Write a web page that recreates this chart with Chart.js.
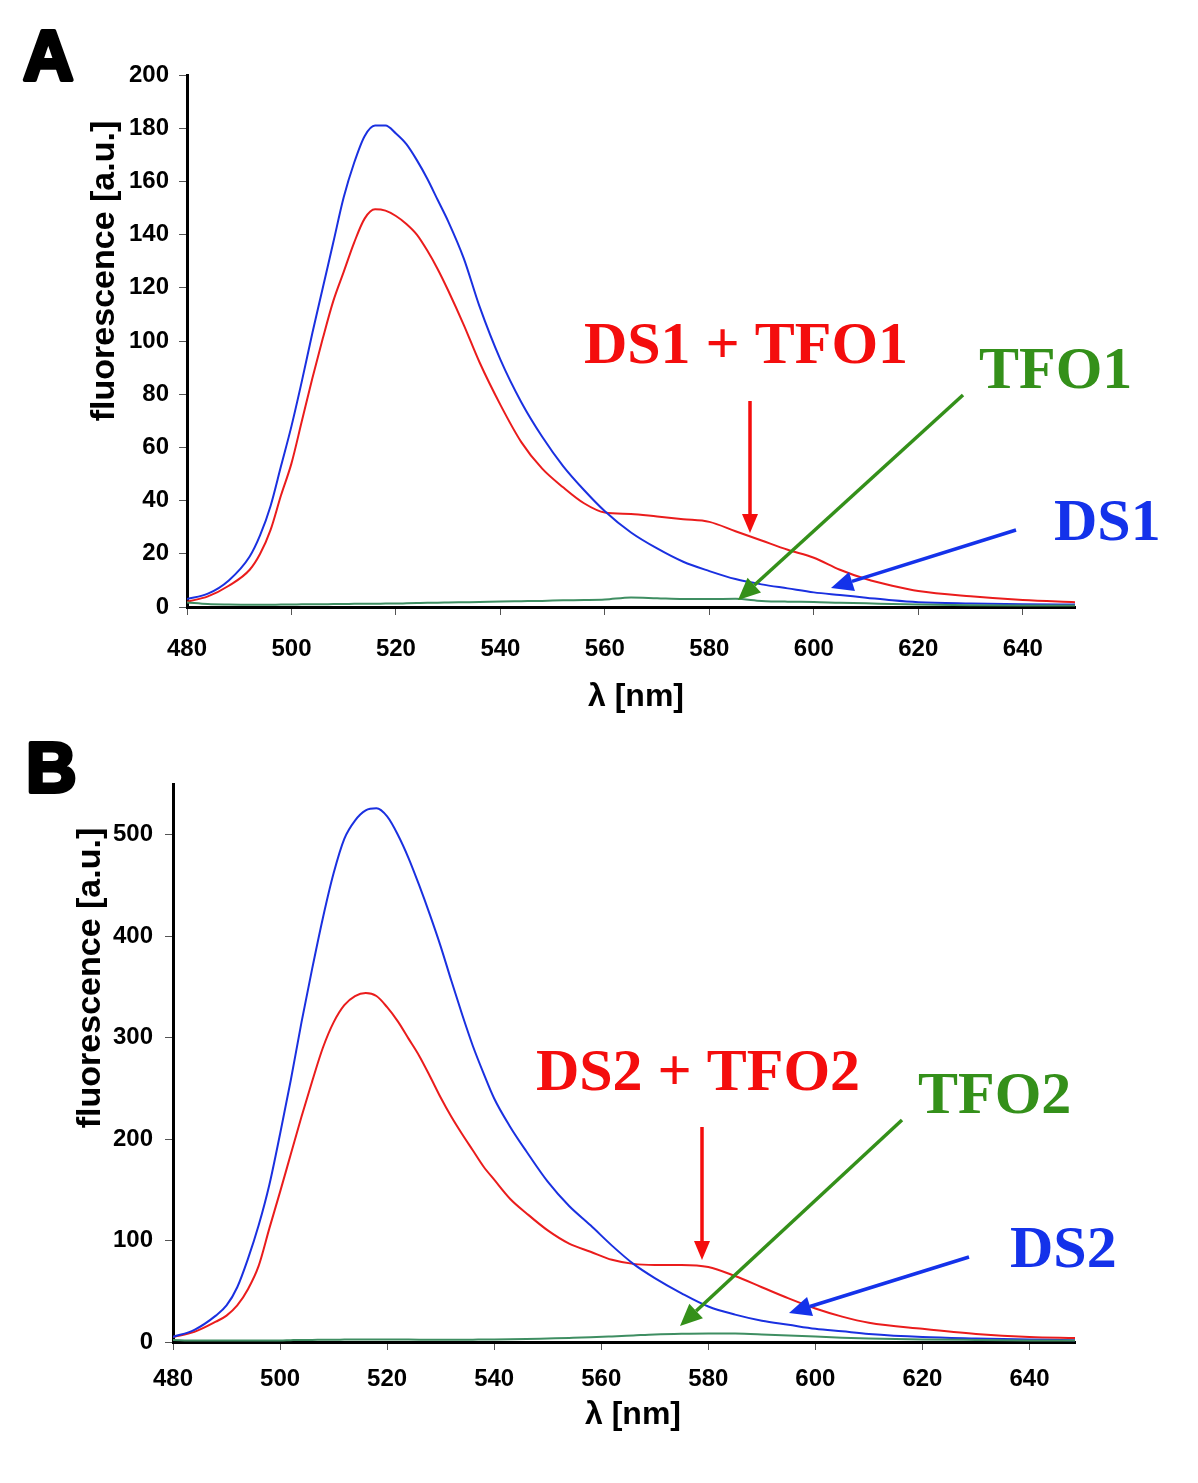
<!DOCTYPE html>
<html>
<head>
<meta charset="utf-8">
<script src="https://cdn.jsdelivr.net/npm/chart.js@4.4.1/dist/chart.umd.min.js"></script>
<style>
    html, body { margin: 0; padding: 0; background: #fff; }
    body { width: 1198px; height: 1483px; position: relative; overflow: hidden; }
    canvas { position: absolute; left: 0; }
    #chartA { top: 0; }
    #chartB { top: 740px; }
</style>
</head>
<body>
<canvas id="chartA" width="1198" height="740"></canvas>
<canvas id="chartB" width="1198" height="743"></canvas>
<script>
// --- Panel A data (wavelength in nm, fluorescence in a.u.) ---
const wlA = [480, 484, 488, 492, 494, 496, 498, 500, 502, 504, 506, 508, 510, 512, 514, 516, 518, 520,
    522, 524, 526, 528, 530, 533, 536, 540, 544, 548, 552, 556, 560, 565, 570, 575, 580, 585, 590,
    595, 600, 605, 610, 615, 620, 630, 640, 650];
const ds1 = [3, 5, 10, 19, 27, 38, 53, 68, 85, 103, 120, 137, 154, 167, 177, 181, 181, 178,
    174, 168, 161, 153, 145, 131, 113, 93, 77, 64, 53, 44, 36, 28, 22, 17, 13.5, 10.5, 8.5,
    7, 5.5, 4.5, 3.5, 2.5, 1.8, 1.3, 1, 0.9];
const ds1tfo1 = [2, 4, 8, 14, 20, 29, 42, 54, 70, 86, 101, 115, 126, 137, 146, 149.5, 149, 147,
    144, 140, 134, 127, 119, 106, 92, 76, 62, 52, 45, 39, 35.5, 35, 34, 33, 32, 28.5, 25,
    21.5, 18.5, 14, 10.5, 8, 6, 4, 2.6, 1.8];
const tfo1 = [1.7, 1.1, 0.9, 0.8, 0.8, 0.8, 0.9, 0.9, 1, 1, 1, 1.1, 1.1, 1.2, 1.2, 1.2, 1.3, 1.3,
    1.4, 1.5, 1.6, 1.6, 1.7, 1.8, 1.9, 2.1, 2.2, 2.3, 2.5, 2.6, 2.8, 3.6, 3.3, 3.0, 3.0, 3.1, 2.3,
    2.0, 1.9, 1.6, 1.4, 1.1, 0.9, 0.7, 0.6, 0.6];

// --- Panel B data ---
const wlB = [480, 484, 488, 490, 492, 494, 496, 498, 500, 502, 504, 506, 508, 510, 512, 514, 516, 518,
    520, 522, 524, 526, 528, 530, 532, 534, 536, 538, 540, 543, 546, 550, 554, 558, 562, 566, 570,
    575, 580, 585, 590, 595, 600, 605, 610, 620, 630, 640, 648.5];
const ds2 = [5, 12, 26, 36, 54, 82, 115, 155, 205, 258, 315, 368, 418, 462, 496, 514, 524, 526,
    518, 500, 477, 450, 421, 390, 356, 323, 292, 265, 240, 212, 188, 158, 134, 115, 95, 77, 63,
    48, 35, 27, 21, 17, 13, 10.5, 8, 5, 3.5, 2.4, 1.7];
const ds2tfo2 = [5, 10, 20, 26, 36, 52, 75, 112, 148, 185, 222, 257, 290, 315, 332, 341, 344, 341,
    330, 316, 299, 282, 262, 241, 222, 205, 189, 173, 160, 141, 127, 110, 97, 89, 81, 77, 76,
    76, 74, 65, 54, 43, 33, 25, 19, 13, 8, 5, 4];
const tfo2 = [2, 1.5, 1.5, 1.5, 1.5, 1.5, 1.5, 1.5, 1.5, 1.8, 2, 2, 2.2, 2.2, 2.4, 2.5, 2.5, 2.5,
    2.5, 2.5, 2.4, 2.3, 2.2, 2.2, 2.2, 2.2, 2.3, 2.4, 2.5, 2.7, 3, 3.5, 4, 4.6, 5.5, 6.5, 7.5,
    8.2, 8.5, 8.3, 7.5, 6.5, 5.3, 4.3, 3.5, 2.5, 2, 1.6, 1.5];

// axis ticks
const xTicksStep = 20;
const yTicksStepA = 20;
const yTicksStepB = 100;

const BLUE = '#1a30e0';
const RED = '#ea1c1c';
const GREEN_LINE = '#3f8e62';
const TXT_RED = '#f40d0d';
const TXT_GREEN = '#34901a';
const TXT_BLUE = '#1432ea';
const SANS = "'Liberation Sans', Arial, sans-serif";
const SERIF = "'Liberation Serif', 'Times New Roman', serif";

function toPoints(xs, ys) {
    return xs.map((x, i) => ({ x: x, y: ys[i] }));
}

function series(label, xs, ys, color) {
    return {
        label: label,
        data: toPoints(xs, ys),
        borderColor: color,
        borderWidth: 2,
        pointRadius: 0,
        fill: false,
        cubicInterpolationMode: 'monotone'
    };
}

function drawArrow(ctx, x1, y1, x2, y2, color, head, half) {
    const ang = Math.atan2(y2 - y1, x2 - x1);
    const bx = x2 - head * Math.cos(ang);
    const by = y2 - head * Math.sin(ang);
    ctx.save();
    ctx.strokeStyle = color;
    ctx.fillStyle = color;
    ctx.lineWidth = 3.5;
    ctx.beginPath();
    ctx.moveTo(x1, y1);
    ctx.lineTo(bx, by);
    ctx.stroke();
    ctx.beginPath();
    ctx.moveTo(x2, y2);
    ctx.lineTo(bx + half * Math.sin(ang), by - half * Math.cos(ang));
    ctx.lineTo(bx - half * Math.sin(ang), by + half * Math.cos(ang));
    ctx.closePath();
    ctx.fill();
    ctx.restore();
}

// overlay: panel letter, axis titles, labels and arrows
function overlay(id, o) {
    return {
        id: id,
        afterDraw(chart) {
            const ctx = chart.ctx;
            ctx.save();
            // panel letter
            ctx.fillStyle = '#000';
            ctx.strokeStyle = '#000';
            ctx.lineWidth = 4;
            ctx.lineJoin = 'round';
            ctx.font = 'bold ' + o.letterSize + 'px ' + SANS;
            ctx.textAlign = 'left';
            ctx.textBaseline = 'alphabetic';
            ctx.strokeText(o.letter, o.letterX, o.letterY);
            ctx.fillText(o.letter, o.letterX, o.letterY);

            // axis titles
            ctx.font = 'bold 34px ' + SANS;
            ctx.textAlign = 'center';
            ctx.textBaseline = 'middle';
            ctx.save();
            ctx.translate(o.yTitleX, o.yTitleY);
            ctx.rotate(-Math.PI / 2);
            ctx.fillText('fluorescence [a.u.]', 0, 0);
            ctx.restore();
            ctx.font = 'bold 32px ' + SANS;
            ctx.textBaseline = 'alphabetic';
            ctx.fillText('λ [nm]', o.xTitleX, o.xTitleY);

            // curve labels
            ctx.font = 'bold 60px ' + SERIF;
            ctx.fillStyle = TXT_RED;
            ctx.textAlign = 'center';
            ctx.fillText(o.mixText, o.mixX, o.mixY);
            ctx.textAlign = 'left';
            ctx.fillStyle = TXT_GREEN;
            ctx.fillText(o.tfoText, o.tfoX, o.tfoY);
            ctx.fillStyle = TXT_BLUE;
            ctx.fillText(o.dsText, o.dsX, o.dsY);
            ctx.restore();

            // arrows
            const a = o.arrows;
            drawArrow(ctx, a.red[0], a.red[1], a.red[2], a.red[3], TXT_RED, 19, 8);
            drawArrow(ctx, a.green[0], a.green[1], a.green[2], a.green[3], TXT_GREEN, 22, 10);
            drawArrow(ctx, a.blue[0], a.blue[1], a.blue[2], a.blue[3], TXT_BLUE, 22, 10);
        }
    };
}

function makeChart(canvasId, cfg) {
    const tickFont = { family: SANS, weight: 'bold', size: 24 };
    return new Chart(document.getElementById(canvasId), {
        type: 'line',
        data: {
            datasets: [
                series(cfg.names[2], cfg.wl, cfg.tfo, GREEN_LINE),
                series(cfg.names[0], cfg.wl, cfg.ds, BLUE),
                series(cfg.names[1], cfg.wl, cfg.mix, RED)
            ]
        },
        options: {
            responsive: false,
            animation: false,
            devicePixelRatio: 1,
            layout: { padding: cfg.padding },
            plugins: { legend: { display: false }, tooltip: { enabled: false } },
            scales: {
                x: {
                    type: 'linear',
                    min: 480,
                    max: cfg.xMax,
                    border: { display: true, color: '#000', width: 3 },
                    grid: { drawOnChartArea: false, tickLength: 8, color: '#555', lineWidth: 1 },
                    ticks: {
                        stepSize: xTicksStep, includeBounds: false, autoSkip: false, maxRotation: 0,
                        color: '#000', font: tickFont, padding: cfg.xPad
                    },
                    afterFit(scale) { scale.height = 60; }
                },
                y: {
                    type: 'linear',
                    min: 0,
                    max: cfg.yMax,
                    border: { display: true, color: '#000', width: 3 },
                    grid: { drawOnChartArea: false, tickLength: 8, color: '#555', lineWidth: 1 },
                    ticks: {
                        stepSize: cfg.yStep, includeBounds: false, color: '#000',
                        font: tickFont, padding: cfg.yPad
                    },
                    afterFit(scale) { scale.width = cfg.yWidth; }
                }
            }
        },
        plugins: [cfg.overlay]
    });
}

makeChart('chartA', {
    wl: wlA, ds: ds1, mix: ds1tfo1, tfo: tfo1,
    names: ['DS1', 'DS1 + TFO1', 'TFO1'],
    xMax: 650, yMax: 200, yStep: yTicksStepA,
    padding: { top: 75, left: 0, right: 123, bottom: 73 },
    yWidth: 187, xPad: 20, yPad: 10,
    overlay: overlay('overlayA', {
        letter: 'A', letterSize: 70, letterX: 23, letterY: 80,
        yTitleX: 105, yTitleY: 271, xTitleX: 636, xTitleY: 706,
        mixText: 'DS1 + TFO1', mixX: 746, mixY: 363,
        tfoText: 'TFO1', tfoX: 979, tfoY: 388,
        dsText: 'DS1', dsX: 1054, dsY: 540,
        arrows: {
            red: [750, 401, 750, 533],
            green: [963, 395, 738, 600],
            blue: [1016, 530, 831, 588]
        }
    })
});

makeChart('chartB', {
    wl: wlB, ds: ds2, mix: ds2tfo2, tfo: tfo2,
    names: ['DS2', 'DS2 + TFO2', 'TFO2'],
    xMax: 648.5, yMax: 550, yStep: yTicksStepB,
    padding: { top: 44, left: 0, right: 123, bottom: 81 },
    yWidth: 173, xPad: 15, yPad: 12,
    overlay: overlay('overlayB', {
        letter: 'B', letterSize: 70, letterX: 26, letterY: 52,
        yTitleX: 91, yTitleY: 238, xTitleX: 633, xTitleY: 684,
        mixText: 'DS2 + TFO2', mixX: 698, mixY: 350,
        tfoText: 'TFO2', tfoX: 918, tfoY: 373,
        dsText: 'DS2', dsX: 1010, dsY: 527,
        arrows: {
            red: [702, 387, 702, 520],
            green: [902, 380, 680, 586],
            blue: [969, 517, 789, 573]
        }
    })
});
</script>
</body>
</html>
